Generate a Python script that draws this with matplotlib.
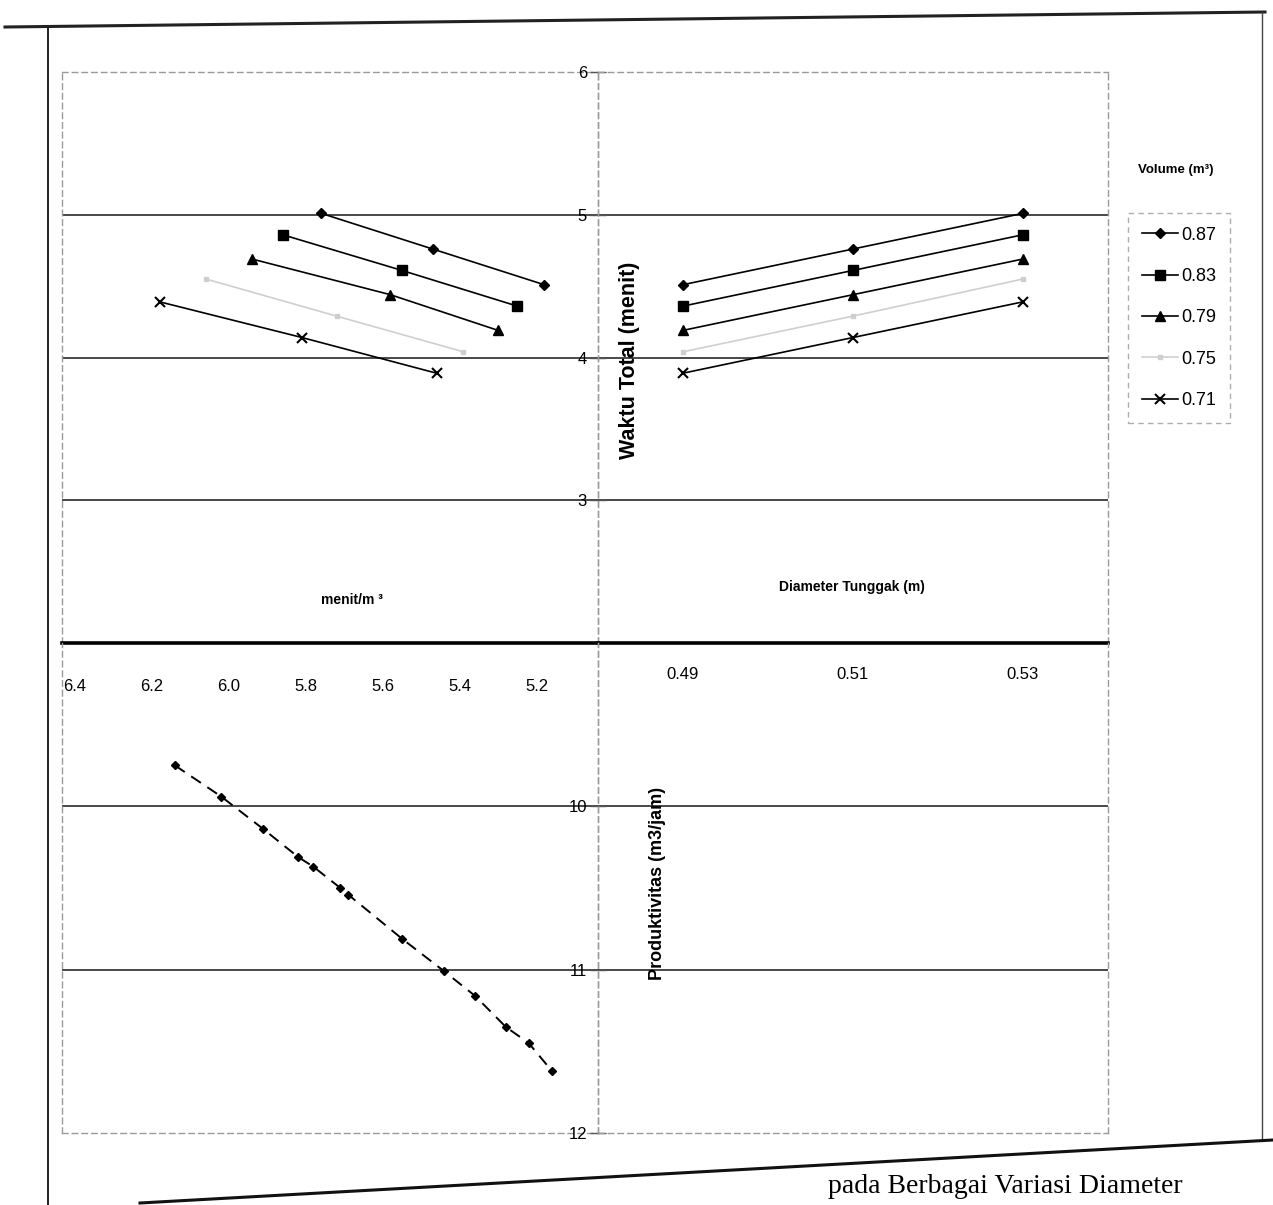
import matplotlib
matplotlib.use("Agg")
import matplotlib.pyplot as plt
from matplotlib.lines import Line2D

plt.rcParams['font.family'] = ['Liberation Sans', 'DejaVu Sans']

# ---------------- data ----------------
volumes = ["0.87", "0.83", "0.79", "0.75", "0.71"]
diameters = [0.49, 0.51, 0.53]
# Waktu total (menit) per diameter 0.49, 0.51, 0.53
waktu_087 = [4.51, 4.76, 5.01]
waktu_083 = [4.36, 4.61, 4.86]
waktu_079 = [4.19, 4.44, 4.69]
waktu_075 = [4.04, 4.29, 4.55]
waktu_071 = [3.89, 4.14, 4.39]
# menit/m3 for the same points (diameter 0.49, 0.51, 0.53)
mpm_087 = [5.18, 5.47, 5.76]
mpm_083 = [5.25, 5.55, 5.86]
mpm_079 = [5.30, 5.58, 5.94]
mpm_075 = [5.39, 5.72, 6.06]
mpm_071 = [5.46, 5.81, 6.18]
# productivity curve (menit/m3 -> m3/jam)
prod_x = [6.14, 6.02, 5.91, 5.82, 5.78, 5.71, 5.69, 5.55, 5.44, 5.36, 5.28, 5.22, 5.16]
prod_y = [9.75, 9.94, 10.14, 10.31, 10.37, 10.50, 10.54, 10.81, 11.01, 11.16, 11.35, 11.45, 11.62]

left_ticks = [6.4, 6.2, 6.0, 5.8, 5.6, 5.4, 5.2]
left_ticklabels = ["6.4", "6.2", "6.0", "5.8", "5.6", "5.4", "5.2"]
top_yticks = [3, 4, 5, 6]
bot_yticks = [10, 11, 12]

W, H = 1273, 1205
fig = plt.figure(figsize=(W / 100, H / 100), dpi=100)
fig.patch.set_facecolor('white')


def rect(l, r, t, b):
    return [l / W, 1 - b / H, (r - l) / W, (b - t) / H]


axTL = fig.add_axes(rect(62, 598, 72, 643))
axTR = fig.add_axes(rect(598, 1108, 72, 643))
axBL = fig.add_axes(rect(62, 598, 643, 1133))
axBR = fig.add_axes(rect(598, 1108, 643, 1133))

frame_col = '#9a9a9a'
grid_col = '#3a3a3a'

for ax in (axTL, axTR, axBL, axBR):
    ax.set_facecolor('none')
    for s in ax.spines.values():
        s.set_color(frame_col)
        s.set_linestyle((0, (4, 3)))
        s.set_linewidth(1.0)
    ax.tick_params(length=0)

# top panels
for ax in (axTL, axTR):
    ax.set_ylim(2, 6)
    for yv in [3, 4, 5]:
        ax.axhline(yv, color=grid_col, lw=1.3, zorder=1)
    ax.spines['bottom'].set_color('black')
    ax.spines['bottom'].set_linestyle('-')
    ax.spines['bottom'].set_linewidth(2.6)
axTL.set_xlim(6.434, 5.04)
axTR.set_xlim(0.48, 0.54)

# bottom panels
for ax in (axBL, axBR):
    ax.set_ylim(12, 9)
    for yv in [10, 11]:
        ax.axhline(yv, color=grid_col, lw=1.3, zorder=1)
    ax.spines['top'].set_visible(False)
axBL.set_xlim(6.434, 5.04)
axBR.set_xlim(0.48, 0.54)

# ticks: left x (menit/m3)
axTL.set_xticks(left_ticks)
axTL.set_xticklabels(left_ticklabels)
axTL.tick_params(axis='x', pad=26, labelsize=12)
axTL.set_yticks([])
# right x (diameter)
axTR.set_xticks(diameters)
axTR.set_xticklabels([f"{d:.2f}" for d in diameters])
axTR.tick_params(axis='x', pad=17, labelsize=12)
# center y-axis (Waktu)
axTR.set_yticks(top_yticks)
axTR.set_yticklabels([str(v) for v in top_yticks])
axTR.tick_params(axis='y', direction='inout', length=12, width=1.0, color='#555555',
                 labelsize=12, pad=2)
axBL.set_xticks([])
axBL.set_yticks([])
axBR.set_xticks([])
axBR.set_yticks(bot_yticks)
axBR.set_yticklabels([str(v) for v in bot_yticks])
axBR.tick_params(axis='y', direction='inout', length=12, width=1.0, color='#555555',
                 labelsize=12, pad=2)

styles = [
    dict(marker='D', ms=5, color='black', lw=1.2),
    dict(marker='s', ms=7, color='black', lw=1.2),
    dict(marker='^', ms=7, color='black', lw=1.2),
    dict(marker='s', ms=3, color='#cfcfcf', lw=1.2),
    dict(marker='x', ms=7, mew=1.5, color='black', lw=1.2),
]
waktus = [waktu_087, waktu_083, waktu_079, waktu_075, waktu_071]
mpms = [mpm_087, mpm_083, mpm_079, mpm_075, mpm_071]

handles = []
for lab, w, m, st in zip(volumes, waktus, mpms, styles):
    axTL.plot(m, w, zorder=3, **st)
    h, = axTR.plot(diameters, w, zorder=3, label=lab, **st)
    handles.append(h)

# productivity curve
axBL.plot(prod_x, prod_y, color='black', lw=1.4, ls=(0, (6, 4)),
          marker='D', ms=4, zorder=3)

# axis labels / titles
fig.text(630 / W, 1 - 360 / H, "Waktu Total (menit)", rotation=90, ha='center',
         va='center', fontsize=15.5, fontweight='bold')
fig.text(657 / W, 1 - 883 / H, "Produktivitas (m3/jam)", rotation=90, ha='center',
         va='center', fontsize=13, fontweight='bold')
fig.text(352 / W, 1 - 600 / H, "menit/m \u00b3", ha='center', va='center',
         fontsize=10, fontweight='bold')
fig.text(852 / W, 1 - 587 / H, "Diameter Tunggak (m)", ha='center', va='center',
         fontsize=10, fontweight='bold')

# legend
fig.text(1176 / W, 1 - 170 / H, "Volume (m\u00b3)", ha='center', va='center',
         fontsize=9.5, fontweight='bold')
leg = fig.legend(handles=handles, labels=volumes, loc='upper left',
                 bbox_to_anchor=(1128 / W, 1 - 213 / H), frameon=True,
                 fontsize=13, handlelength=2.0, handletextpad=0.2,
                 labelspacing=1.35, borderpad=0.75, borderaxespad=0,
                 fancybox=False)
leg.get_frame().set_edgecolor(frame_col)
leg.get_frame().set_linestyle((0, (4, 3)))
leg.get_frame().set_linewidth(1.0)

# page decorations (border lines of scanned page)
def fl(xs, ys, **kw):
    fig.add_artist(Line2D([x / W for x in xs], [1 - y / H for y in ys],
                          transform=fig.transFigure, **kw))

fl([5, 1265], [27, 12], color='#222222', lw=2.2)
fl([48, 48], [27, 1205], color='#222222', lw=1.4)
fl([1262, 1262], [12, 1140], color='#444444', lw=1.0)
fl([140, 1273], [1203, 1140], color='#111111', lw=2.2)

fig.text(1183 / W, 1 - 1174 / H, "pada Berbagai Variasi Diameter", ha='right',
         va='top', fontsize=20, family=['Liberation Serif', 'DejaVu Serif'])

fig.savefig("out.png", dpi=100, facecolor='white')
